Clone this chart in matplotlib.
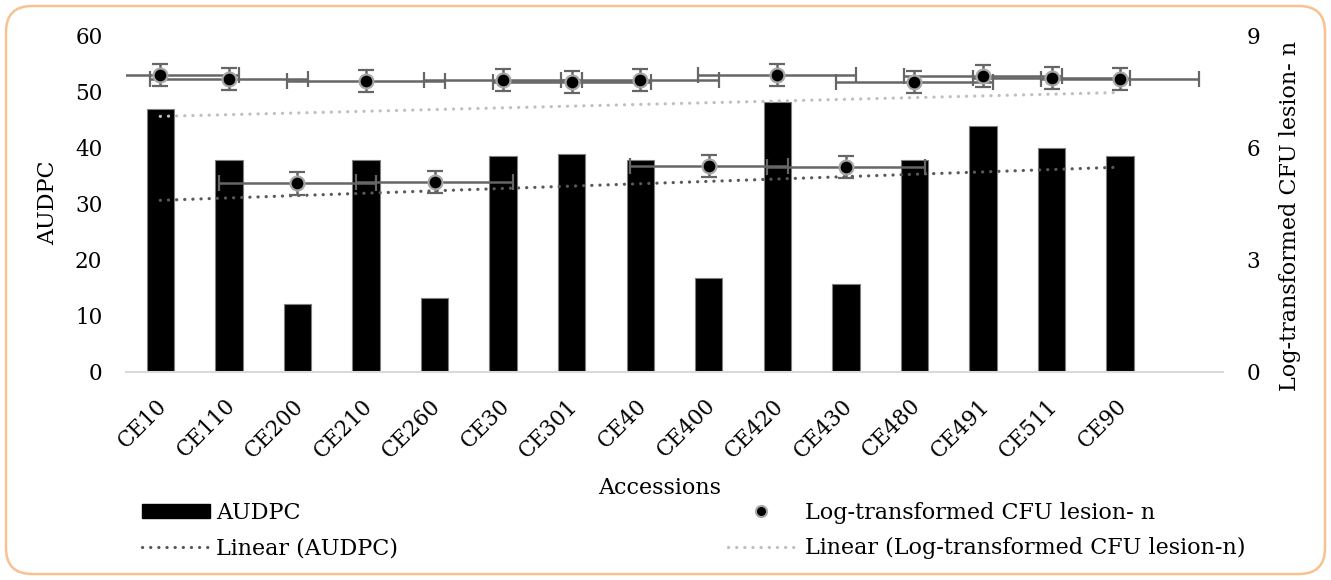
import numpy as np
import matplotlib
matplotlib.use('Agg')
import matplotlib.pyplot as plt
import matplotlib.transforms as mtransforms
from matplotlib.patches import FancyBboxPatch, Patch
from matplotlib.lines import Line2D

# ---- data ----
accessions = ['CE10', 'CE110', 'CE200', 'CE210', 'CE260', 'CE30', 'CE301', 'CE40',
              'CE400', 'CE420', 'CE430', 'CE480', 'CE491', 'CE511', 'CE90']
audpc = [46.8, 37.7, 12.1, 37.7, 13.1, 38.5, 38.8, 37.7, 16.8, 48.1, 15.7, 37.7, 43.8, 39.8, 38.5]
log_cfu = [7.93, 7.83, 5.04, 7.77, 5.07, 7.80, 7.74, 7.80, 5.50, 7.93, 5.47, 7.74, 7.90, 7.85, 7.82]
log_cfu_yerr = [0.30, 0.30, 0.30, 0.30, 0.30, 0.30, 0.30, 0.30, 0.30, 0.30, 0.30, 0.30, 0.30, 0.30, 0.30]
log_cfu_xerr = [1.15, 1.15, 1.15, 1.15, 1.15, 1.15, 1.15, 1.15, 1.15, 1.15, 1.15, 1.15, 1.15, 1.15, 1.15]
left_ticks = [0, 10, 20, 30, 40, 50, 60]
right_ticks = [0, 3, 6, 9]

plt.rcParams['font.family'] = ['DejaVu Serif', 'Liberation Serif']

W, H = 1331, 580
fig = plt.figure(figsize=(W / 100, H / 100), dpi=100)

# rounded outer border
border = FancyBboxPatch((0.06, 0.06), (W - 12) / 100, (H - 12) / 100,
                        boxstyle='round,pad=0,rounding_size=0.26',
                        transform=fig.dpi_scale_trans, facecolor='white',
                        edgecolor='#F9C18F', linewidth=1.8, zorder=0)
fig.add_artist(border)

ax1 = fig.add_axes([126 / W, 1 - 372 / H, (1223 - 126) / W, (372 - 35) / H])
ax1.patch.set_alpha(0)
x = np.arange(1, len(accessions) + 1)

ax1.bar(x, audpc, width=0.4, color='black', edgecolor='#7f7f7f', linewidth=0.8, zorder=2)
c1 = np.polyfit(x, audpc, 1)
ax1.plot(x, np.polyval(c1, x), color='#595959', linewidth=2.3,
         linestyle=(0, (0.05, 2.5)), dash_capstyle='round', zorder=3)

ax1.set_xlim(0.5, 16.5)
ax1.set_ylim(0, 60)
ax1.set_yticks(left_ticks)
ax1.set_xticks(x)
ax1.set_xticklabels(accessions, rotation=45, ha='right', va='center', rotation_mode='anchor')
ax1.tick_params(axis='y', length=0, pad=17, labelsize=15.5)
ax1.tick_params(axis='x', length=0, pad=22, labelsize=15.5)
offset = mtransforms.ScaledTranslation(3 / 100, 0, fig.dpi_scale_trans)
for lab in ax1.get_xticklabels():
    lab.set_transform(lab.get_transform() + offset)
for s in ['top', 'left', 'right']:
    ax1.spines[s].set_visible(False)
ax1.spines['bottom'].set_color('#D9D9D9')
ax1.spines['bottom'].set_linewidth(1.5)

ax2 = ax1.twinx()
ax2.errorbar(x, log_cfu, xerr=log_cfu_xerr, yerr=log_cfu_yerr, fmt='o', ms=10,
             mfc='black', mec='#A6A6A6', mew=1.6, ecolor='#666666', elinewidth=1.8,
             capsize=6, capthick=1.8, zorder=4)
c2 = np.polyfit(x, log_cfu, 1)
ax2.plot(x, np.polyval(c2, x), color='#BFBFBF', linewidth=2.3,
         linestyle=(0, (0.05, 2.5)), dash_capstyle='round', zorder=3)
ax2.set_xlim(0.5, 16.5)
ax2.set_ylim(0, 9)
ax2.set_yticks(right_ticks)
ax2.tick_params(axis='y', length=0, pad=17, labelsize=15.5)
for s in ['top', 'left', 'right', 'bottom']:
    ax2.spines[s].set_visible(False)

# axis titles
fig.text(48 / W, 1 - 203 / H, 'AUDPC', rotation=90, ha='center', va='center', fontsize=16)
fig.text(1290 / W, 1 - 216 / H, 'Log-transformed CFU lesion- n', rotation=90,
         ha='center', va='center', fontsize=16)
fig.text(660 / W, 1 - 488 / H, 'Accessions', ha='center', va='center', fontsize=16)

# legends
h1 = [Patch(facecolor='black', edgecolor='black'),
      Line2D([], [], color='#595959', linewidth=2.3, linestyle=(0, (0.05, 2.5)),
             dash_capstyle='round')]
fig.legend(h1, ['AUDPC', 'Linear (AUDPC)'], loc='upper left',
           bbox_to_anchor=(142 / W, 1 - 502 / H), frameon=False, fontsize=16,
           handlelength=3.05, handleheight=0.6, handletextpad=0.3, labelspacing=0.6,
           borderpad=0, borderaxespad=0)
h2 = [Line2D([], [], marker='o', linestyle='none', ms=8, mfc='black', mec='#A6A6A6', mew=1.5),
      Line2D([], [], color='#BFBFBF', linewidth=2.3, linestyle=(0, (0.05, 2.5)),
             dash_capstyle='round')]
fig.legend(h2, ['Log-transformed CFU lesion- n', 'Linear (Log-transformed CFU lesion-n)'],
           loc='upper left', bbox_to_anchor=(728 / W, 1 - 502 / H), frameon=False,
           fontsize=16, handlelength=3.0, handletextpad=0.45, labelspacing=0.6,
           borderpad=0, borderaxespad=0)

fig.savefig('out.png', dpi=100)
